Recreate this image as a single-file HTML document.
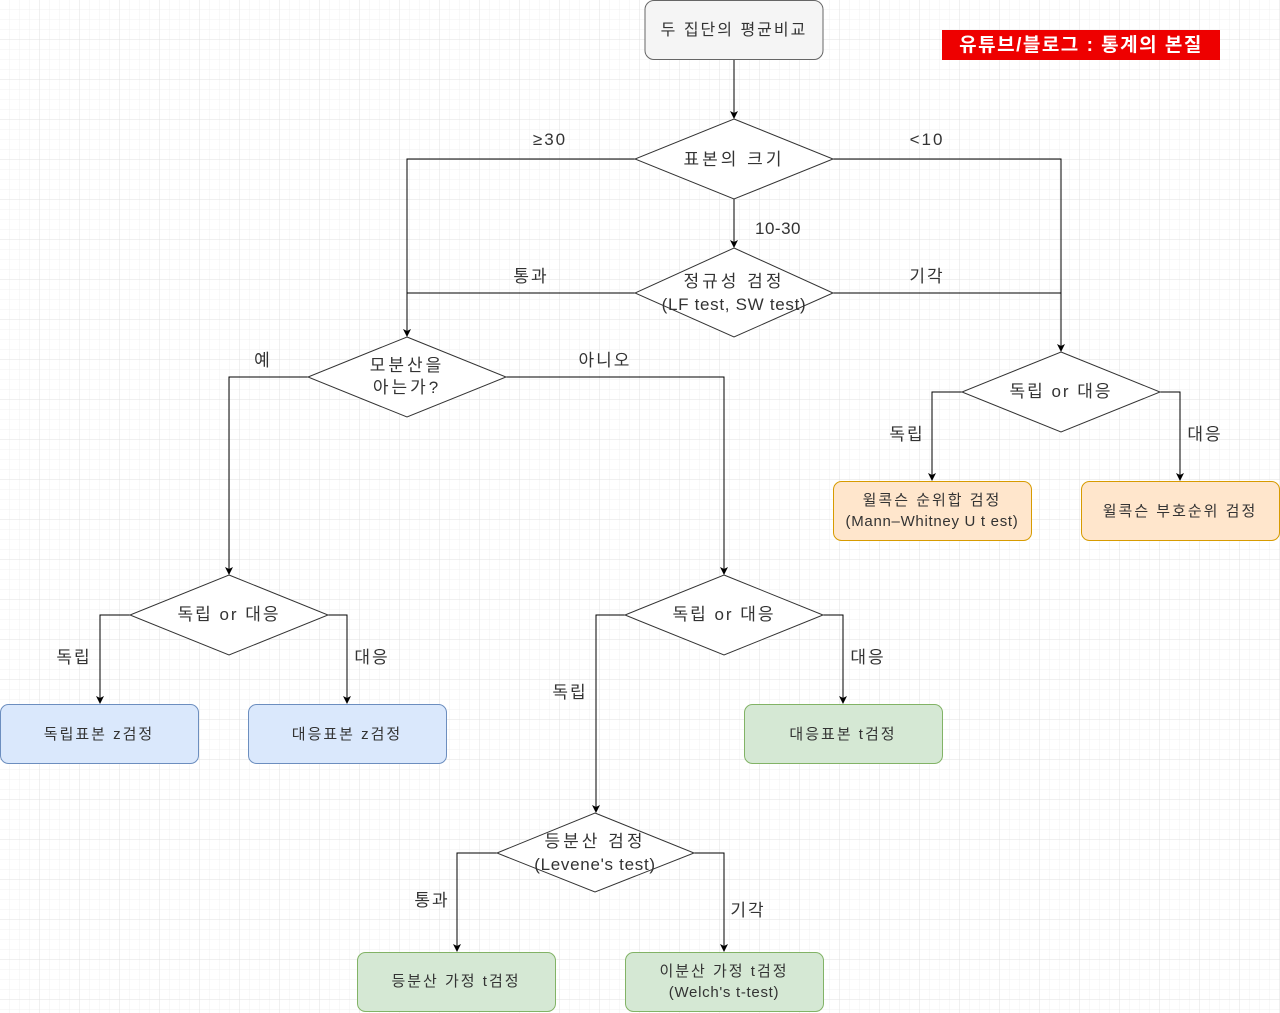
<!DOCTYPE html>
<html><head><meta charset="utf-8"><style>
html,body{margin:0;padding:0;background:#fff}
svg{display:block}
text{font-family:"Liberation Sans","Noto Sans CJK KR",sans-serif;fill:#333}
.k{letter-spacing:2px}
.d{letter-spacing:3px}
.l{letter-spacing:0.7px}
</style></head><body>
<svg width="1280" height="1013" viewBox="0 0 1280 1013" xmlns="http://www.w3.org/2000/svg">
<defs>
<pattern id="g1" width="10" height="10" patternUnits="userSpaceOnUse"><path d="M10 0V10M0 10H10" fill="none" stroke="#f0f0f0" stroke-width="1"/></pattern>
<pattern id="g2" width="40" height="40" patternUnits="userSpaceOnUse"><rect width="40" height="40" fill="url(#g1)"/><path d="M40 0V40M0 40H40" fill="none" stroke="#e2e2e2" stroke-width="1"/></pattern>
<marker id="a" markerWidth="8" markerHeight="8" refX="7" refY="4" orient="auto" markerUnits="userSpaceOnUse"><path d="M0,0 L8,4 L0,8 L2,4 z" fill="#000"/></marker>
</defs>
<rect width="1280" height="1013" fill="url(#g2)"/>
<g fill="none" stroke="#000" stroke-width="1">
<path d="M734 60V118" marker-end="url(#a)"/>
<path d="M635 159H407V336" marker-end="url(#a)"/>
<path d="M833 159H1061V351" marker-end="url(#a)"/>
<path d="M734 199V247" marker-end="url(#a)"/>
<path d="M635 293H407"/>
<path d="M833 293H1061"/>
<path d="M308 377H229V574" marker-end="url(#a)"/>
<path d="M506 377H724V574" marker-end="url(#a)"/>
<path d="M962 392H932V480" marker-end="url(#a)"/>
<path d="M1160 392H1180V480" marker-end="url(#a)"/>
<path d="M130 615H100V703" marker-end="url(#a)"/>
<path d="M328 615H347V703" marker-end="url(#a)"/>
<path d="M625 615H596V812" marker-end="url(#a)"/>
<path d="M823 615H843V703" marker-end="url(#a)"/>
<path d="M497 853H457V951" marker-end="url(#a)"/>
<path d="M694 853H724V951" marker-end="url(#a)"/>
</g>
<rect x="645" y="0.5" width="178" height="59" rx="9" fill="#f5f5f5" stroke="#666"/>
<text x="734" y="35" font-size="16" text-anchor="middle" class="k">두 집단의 평균비교</text>
<rect x="942" y="30" width="278" height="30" fill="#e00"/>
<text x="1081" y="51" font-size="19" font-weight="bold" text-anchor="middle" style="fill:#fff;letter-spacing:1.5px">유튜브/블로그 : 통계의 본질</text>
<g fill="#fff" stroke="#333">
<polygon points="734,119 833,159 734,199 635,159"/>
<polygon points="734,248 833,293 734,337 635,293"/>
<polygon points="407,337 506,377 407,417 308,377"/>
<polygon points="1061,352 1160,392 1061,432 962,392"/>
<polygon points="229,575 328,615 229,655 130,615"/>
<polygon points="724,575 823,615 724,655 625,615"/>
<polygon points="595,813 694,853 595,892 497,853"/>
</g>
<g font-size="17" text-anchor="middle">
<text x="734" y="165" class="d">표본의 크기</text>
<text x="734" y="287" class="d">정규성 검정</text>
<text x="734" y="310" class="l">(LF test, SW test)</text>
<text x="407" y="371" class="d">모분산을</text>
<text x="407" y="393" class="d">아는가?</text>
<text x="1061" y="397" class="k">독립 or 대응</text>
<text x="229" y="620" class="k">독립 or 대응</text>
<text x="724" y="620" class="k">독립 or 대응</text>
<text x="595" y="847" class="d">등분산 검정</text>
<text x="595" y="870" class="l">(Levene's test)</text>
</g>
<g font-size="17" text-anchor="middle" class="k">
<text x="550" y="145">≥30</text>
<text x="927" y="145">&lt;10</text>
<text x="778" y="234" style="letter-spacing:0.5px">10-30</text>
<text x="531" y="282">통과</text>
<text x="927" y="282">기각</text>
<text x="263" y="366">예</text>
<text x="605" y="366">아니오</text>
<text x="907" y="440">독립</text>
<text x="1205" y="440">대응</text>
<text x="74" y="663">독립</text>
<text x="372" y="663">대응</text>
<text x="570" y="698">독립</text>
<text x="868" y="663">대응</text>
<text x="432" y="906">통과</text>
<text x="748" y="916">기각</text>
</g>
<g stroke-width="1">
<rect x="833.5" y="481.5" width="198" height="59" rx="8" fill="#ffe6cc" stroke="#d79b00"/>
<rect x="1081.5" y="481.5" width="198" height="59" rx="8" fill="#ffe6cc" stroke="#d79b00"/>
<rect x="0.5" y="704.5" width="198" height="59" rx="8" fill="#dae8fc" stroke="#6c8ebf"/>
<rect x="248.5" y="704.5" width="198" height="59" rx="8" fill="#dae8fc" stroke="#6c8ebf"/>
<rect x="744.5" y="704.5" width="198" height="59" rx="8" fill="#d5e8d4" stroke="#82b366"/>
<rect x="357.5" y="952.5" width="198" height="59" rx="8" fill="#d5e8d4" stroke="#82b366"/>
<rect x="625.5" y="952.5" width="198" height="59" rx="8" fill="#d5e8d4" stroke="#82b366"/>
</g>
<g font-size="15" text-anchor="middle">
<text x="932" y="505" class="k">윌콕슨 순위합 검정</text>
<text x="932" y="526" class="l">(Mann–Whitney U t est)</text>
<text x="1180" y="516" class="k">윌콕슨 부호순위 검정</text>
<text x="99" y="739" class="k">독립표본 z검정</text>
<text x="347" y="739" class="k">대응표본 z검정</text>
<text x="843" y="739" class="k">대응표본 t검정</text>
<text x="456" y="986" class="k">등분산 가정 t검정</text>
<text x="724" y="976" class="k">이분산 가정 t검정</text>
<text x="724" y="997" class="l">(Welch's t-test)</text>
</g>
</svg>
</body></html>
